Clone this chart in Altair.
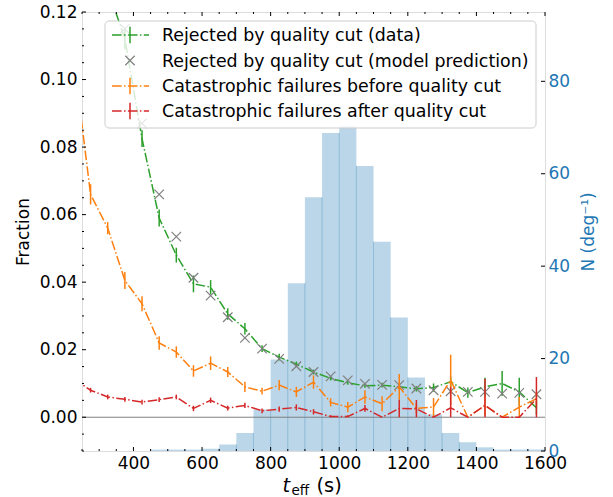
import altair as alt
import pandas as pd
import numpy as np

# ---------------- data ----------------
t_eff = [225, 275, 325, 375, 425, 475, 525, 575, 625, 675, 725, 775, 825, 875, 925,
         975, 1025, 1075, 1125, 1175, 1225, 1275, 1325, 1375, 1425, 1475, 1525, 1575]

rej_data = [0.165, 0.145, 0.127, 0.112, 0.0825, 0.059, 0.048, 0.0395, 0.0385, 0.0306,
            0.0262, 0.0203, 0.0178, 0.0157, 0.0134, 0.0115, 0.0102, 0.0093, 0.0095,
            0.0090, 0.0084, 0.0088, 0.0105, 0.0073, 0.0090, 0.0100, 0.0075, 0.0028]
rej_data_err = [0.004, 0.0035, 0.003, 0.003, 0.0025, 0.0025, 0.0022, 0.0025, 0.0021,
                0.0017, 0.0017, 0.0010, 0.0010, 0.0008, 0.0007, 0.0006, 0.0006, 0.0006,
                0.0007, 0.0007, 0.0008, 0.0012, 0.0015, 0.0015, 0.0027, 0.0037, 0.0042,
                0.0020]

rej_model = [None, None, None, 0.115, 0.087, 0.066, 0.0535, 0.0413, 0.036, 0.0296,
             0.0235, 0.0203, 0.0173, 0.0151, 0.0134, 0.0121, 0.0109, 0.0099, 0.0096,
             0.0095, 0.0085, 0.0080, 0.0077, 0.0075, 0.0075, 0.0070, 0.0072, 0.0068]

cat_before = [0.107, 0.066, 0.056, 0.0405, 0.0336, 0.022, 0.0193, 0.0137, 0.016, 0.0134,
              0.009, 0.0077, 0.0095, 0.0075, 0.0104, 0.0044, 0.003, 0.006, 0.004, 0.009,
              0.0026, 0.003, 0.011, 0.0, 0.0035, 0.0, 0.003, 0.0055]
cat_before_err = [0.004, 0.003, 0.0018, 0.0025, 0.0022, 0.002, 0.0017, 0.0017, 0.002,
                  0.0015, 0.0015, 0.001, 0.0015, 0.0015, 0.002, 0.0012, 0.0015, 0.002,
                  0.0022, 0.0038, 0.0015, 0.0027, 0.0075, 0.0, 0.003, 0.0, 0.003, 0.002]

cat_after = [0.0114, 0.008, 0.006, 0.0053, 0.0045, 0.0052, 0.006, 0.0026, 0.005, 0.0027,
             0.0035, 0.0019, 0.0024, 0.0029, 0.0016, 0.0002, 0.0002, 0.0026, 0.0, 0.0026,
             0.0025, 0.0, 0.0028, 0.0, 0.0035, 0.0, 0.0, 0.0055]
cat_after_err = [0.0008, 0.0007, 0.0007, 0.0007, 0.0007, 0.0007, 0.0007, 0.0008, 0.0008,
                 0.0007, 0.0008, 0.0007, 0.0008, 0.0009, 0.0008, 0.0004, 0.0004, 0.001,
                 0.0, 0.0026, 0.0026, 0.0, 0.0062, 0.0, 0.0079, 0.0, 0.0, 0.0064]

hist_left = [450, 500, 550, 600, 650, 700, 750, 800, 850, 900, 950, 1000, 1050, 1100,
             1150, 1200, 1250, 1300, 1350, 1400, 1450, 1500, 1550]
hist_n = [0.3, 0.3, 0.3, 0.5, 1.4, 3.9, 9.0, 19.8, 36.3, 54.9, 68.8, 70.3, 61.7, 45.3,
          28.9, 15.9, 7.9, 3.9, 1.9, 0.8, 0.3, 0.3, 0.3]
hist_width = 50

labels = ["Rejected by quality cut (data)",
          "Rejected by quality cut (model prediction)",
          "Catastrophic failures before quality cut",
          "Catastrophic failures after quality cut"]
colors = ["#2ca02c", "#7f7f7f", "#ff7f0e", "#d62728"]

x_major = [400, 600, 800, 1000, 1200, 1400, 1600]
x_minor = [250, 300, 350, 450, 500, 550, 650, 700, 750, 850, 900, 950, 1050, 1100,
           1150, 1250, 1300, 1350, 1450, 1500, 1550]
y_major = [0.0, 0.02, 0.04, 0.06, 0.08, 0.10, 0.12]
y_minor = [-0.01, -0.005, 0.005, 0.01, 0.015, 0.025, 0.03, 0.035, 0.045, 0.05, 0.055,
           0.065, 0.07, 0.075, 0.085, 0.09, 0.095, 0.105, 0.11, 0.115]
n_major = [0, 20, 40, 60, 80]

# ---------------- layout ----------------
W, H = 463, 439
FONT = "DejaVu Sans"
FS = 17
LFS = 17.4
BLUE = "#1f77b4"
DASHDOT = [9.6, 2.4, 1.5, 2.4]

xs = alt.Scale(domain=[250, 1600], nice=False, zero=False)
ys = alt.Scale(domain=[-0.01, 0.12], nice=False, zero=False)
ns = alt.Scale(domain=[0, 95], nice=False, zero=False)

x_axis = alt.Axis(values=x_major, format="d", ticks=False, domain=False, grid=False,
                  labelFontSize=FS, labelFont=FONT, labelColor="black", labelPadding=4,
                  labelFlush=False, title=None)


def X(field):
    return alt.X(field, scale=xs, axis=x_axis)


def series_df(vals, errs):
    v = np.array([np.nan if a is None else a for a in vals], dtype=float)
    e = np.array(errs, dtype=float) if errs is not None else np.zeros(len(v))
    return pd.DataFrame({"t": t_eff, "v": v,
                         "lo": np.maximum(v - e, 0.0), "hi": v + e})


hist_df = pd.DataFrame({"lo": hist_left, "hi": [a + hist_width for a in hist_left],
                        "n": hist_n})
seam_df = pd.DataFrame({"edge": hist_left[1:],
                        "n": [min(a, b) for a, b in zip(hist_n[:-1], hist_n[1:])]})

hist = alt.Chart(hist_df).mark_bar(color=BLUE, opacity=0.3, clip=True).encode(
    x=X("lo:Q"),
    x2="hi:Q",
    y=alt.Y("n:Q", scale=ns, axis=alt.Axis(
        orient="right", values=n_major, ticks=False, domain=False, grid=False,
        labelFontSize=FS, labelFont=FONT, labelColor=BLUE, labelPadding=3,
        title="N (deg⁻¹)", titleColor=BLUE, titleFontSize=FS, titleFont=FONT,
        titleFontWeight="normal", titleAngle=270, titleX=43, titleY=H / 2,
        titleAlign="center", titleBaseline="middle")),
    y2=alt.datum(0),
)
seams = alt.Chart(seam_df).mark_rule(color=BLUE, opacity=0.3, strokeWidth=1).encode(
    x=X("edge:Q"),
    y=alt.Y("n:Q", scale=ns, axis=None),
    y2=alt.datum(0),
)

zero = alt.Chart(pd.DataFrame({"z": [0.0]})).mark_rule(color="#808080", strokeWidth=1).encode(
    y=alt.Y("z:Q", scale=ys, axis=alt.Axis(
        values=y_major, format=".2f", ticks=False, domain=False, grid=False,
        labelFontSize=FS, labelFont=FONT, labelColor="black", labelPadding=5,
        title="Fraction", titleFontSize=FS, titleFont=FONT, titleFontWeight="normal",
        titleColor="black", titleAngle=270, titleX=-59, titleY=H / 2,
        titleAlign="center", titleBaseline="middle")),
)


def err_layers(vals, errs, color):
    df = series_df(vals, errs)
    line = alt.Chart(df).mark_line(color=color, strokeWidth=1.5, strokeDash=DASHDOT,
                                   clip=True).encode(
        x=X("t:Q"),
        y=alt.Y("v:Q", scale=ys, axis=None))
    bars = alt.Chart(df).mark_rule(color=color, strokeWidth=1.5, clip=True).encode(
        x=X("t:Q"),
        y=alt.Y("lo:Q", scale=ys, axis=None),
        y2="hi:Q")
    return [line, bars]


XPATH = "M-1,-1L1,1M1,-1L-1,1"
model_df = series_df(rej_model, None).dropna(subset=["v"])
model = alt.Chart(model_df).mark_point(shape=XPATH, filled=False, size=90,
                                       strokeWidth=1.2, color=colors[1], opacity=1,
                                       clip=True).encode(
    x=X("t:Q"),
    y=alt.Y("v:Q", scale=ys, axis=None))


# inward ticks (matplotlib style)
def xticks(vals, length):
    df = pd.DataFrame({"t": vals})
    b = alt.Chart(df).mark_rule(color="black", strokeWidth=1).encode(
        x=X("t:Q"), y=alt.value(H), y2=alt.value(H - length))
    t = alt.Chart(df).mark_rule(color="black", strokeWidth=1).encode(
        x=X("t:Q"), y=alt.value(0), y2=alt.value(length))
    return [b, t]


def yticks(vals, length, scale, right=False):
    df = pd.DataFrame({"v": vals})
    x0 = W if right else 0
    x1 = W - length if right else length
    return [alt.Chart(df).mark_rule(color="black", strokeWidth=1).encode(
        y=alt.Y("v:Q", scale=scale, axis=None), x=alt.value(x0), x2=alt.value(x1))]


ticks = (xticks(x_major, 4) + xticks(x_minor, 2) + yticks(y_major, 4, ys)
         + yticks(y_minor, 2, ys))
nticks = yticks(n_major, 4, ns, right=True)

# legend (drawn as a box like matplotlib's)
one = pd.DataFrame({"a": [0]})
LX0, LX1, LY0, LY1 = 23, 454, 9, 116
row_y = [23, 48.5, 74, 99]
leg = [alt.Chart(one).mark_rect(fill="white", fillOpacity=0.8, stroke="#cccccc",
                                strokeWidth=1, cornerRadius=4).encode(
    x=alt.value(LX0), x2=alt.value(LX1), y=alt.value(LY0), y2=alt.value(LY1))]
for i, (lab, col) in enumerate(zip(labels, colors)):
    y = row_y[i]
    if i == 1:
        leg.append(alt.Chart(one).mark_point(shape=XPATH, filled=False, size=90,
                                             strokeWidth=1.2, color=col, opacity=1).encode(
            x=alt.value(48), y=alt.value(y)))
    else:
        leg.append(alt.Chart(one).mark_rule(color=col, strokeWidth=1.5,
                                            strokeDash=DASHDOT).encode(
            x=alt.value(30), x2=alt.value(67), y=alt.value(y)))
        leg.append(alt.Chart(one).mark_rule(color=col, strokeWidth=1.5).encode(
            x=alt.value(48), y=alt.value(y - 8.3), y2=alt.value(y + 8.3)))
    leg.append(alt.Chart(pd.DataFrame({"lab": [lab]})).mark_text(
        align="left", baseline="middle", font=FONT, fontSize=LFS, color="black").encode(
        x=alt.value(80), y=alt.value(y + 1), text="lab:N"))

# x-axis title: t_eff (s)
xtitle = [
    alt.Chart(pd.DataFrame({"s": ["t"]})).mark_text(
        align="left", baseline="alphabetic", font=FONT, fontSize=19.4,
        fontStyle="italic", color="black").encode(
        x=alt.value(200.5), y=alt.value(479.5), text="s:N"),
    alt.Chart(pd.DataFrame({"s": ["eff"]})).mark_text(
        align="left", baseline="alphabetic", font=FONT, fontSize=13.6,
        color="black").encode(x=alt.value(209.5), y=alt.value(482.5), text="s:N"),
    alt.Chart(pd.DataFrame({"s": ["(s)"]})).mark_text(
        align="left", baseline="alphabetic", font=FONT, fontSize=19.4,
        color="black").encode(x=alt.value(234.5), y=alt.value(479.5), text="s:N"),
]

layers = ([hist, seams, zero]
          + err_layers(rej_data, rej_data_err, colors[0])
          + [model]
          + err_layers(cat_before, cat_before_err, colors[2])
          + err_layers(cat_after, cat_after_err, colors[3])
          + ticks + nticks + leg + xtitle)

chart = alt.layer(*layers).resolve_scale(y="independent").properties(
    width=W, height=H,
    padding={"left": 82, "top": 12, "right": 68, "bottom": 46},
    autosize=alt.AutoSizeParams(type="none"),
    background="white",
).configure_view(stroke="black", strokeWidth=1.2).configure(font=FONT)

chart.save("out.html", embed_options={"renderer": "svg", "actions": False})
